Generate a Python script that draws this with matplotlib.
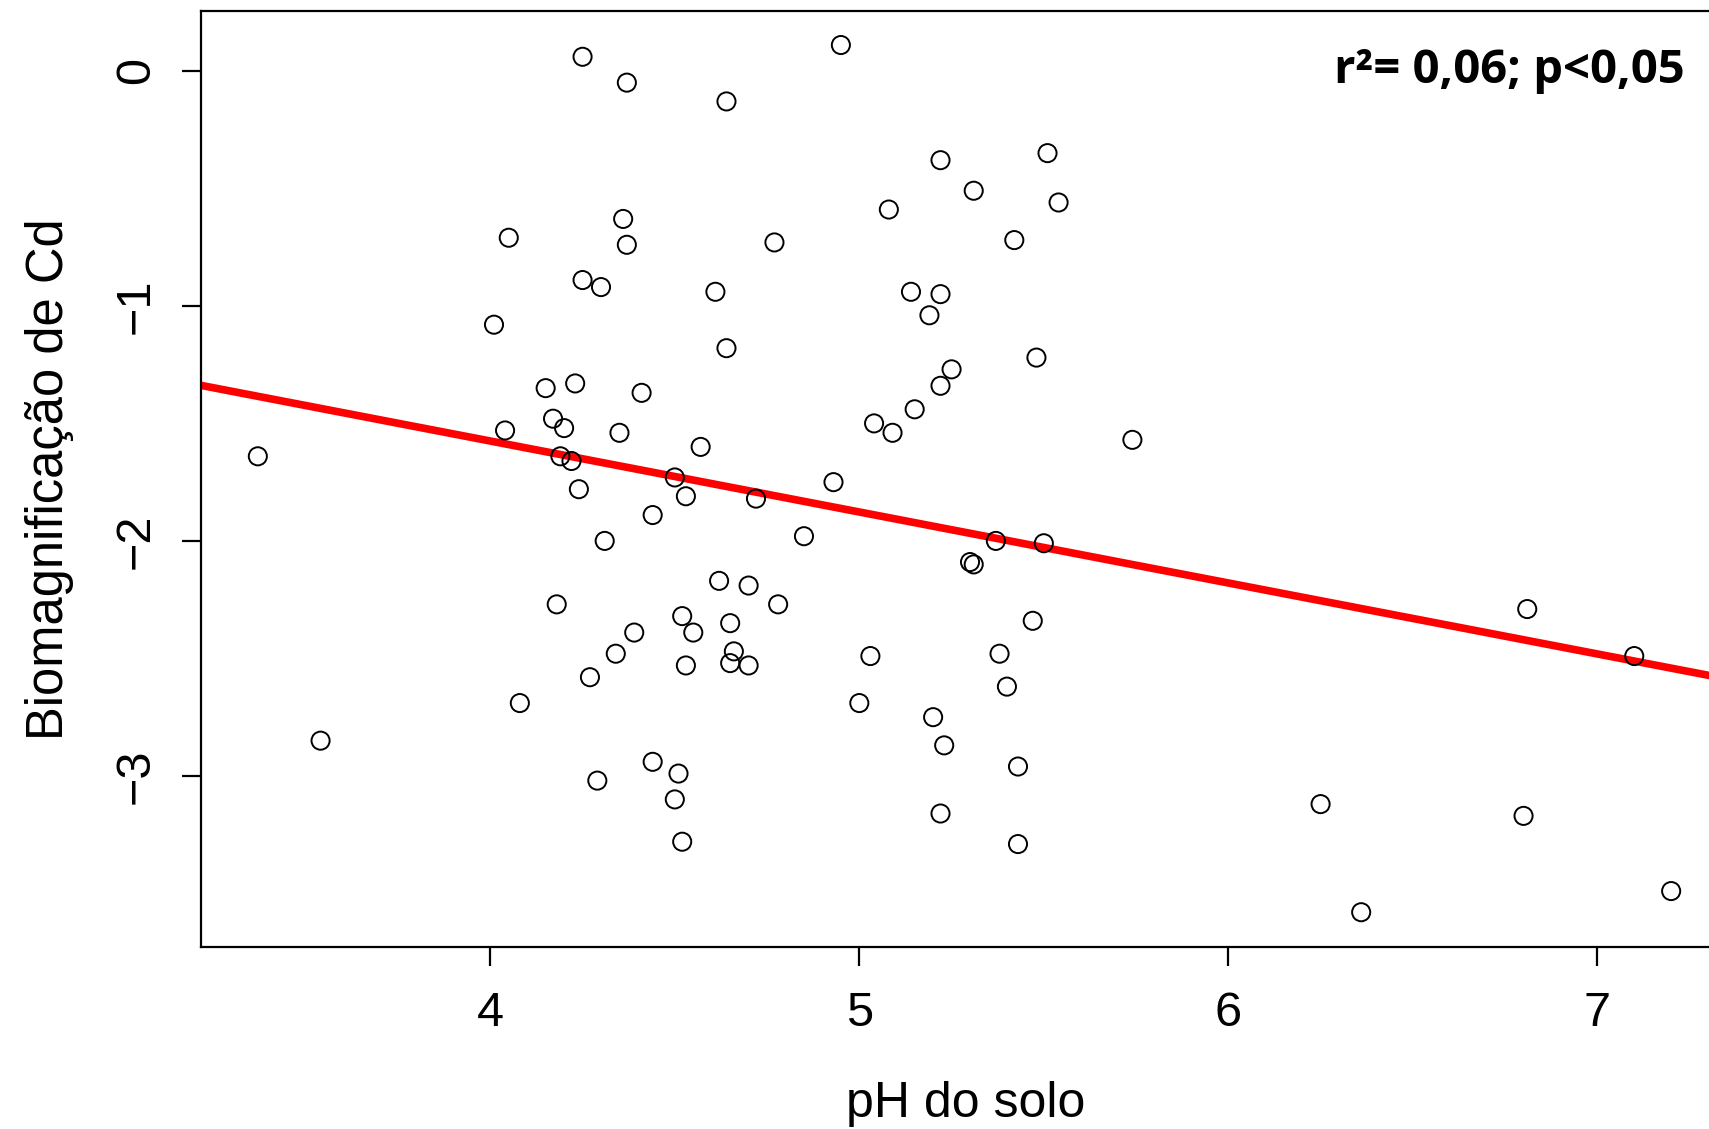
import numpy as np
import matplotlib
matplotlib.use('Agg')
import matplotlib.pyplot as plt

plt.rcParams['font.family'] = ['Liberation Sans', 'DejaVu Sans']

# soil pH vs Cd biomagnification
ph = [3.37, 3.54, 4.25, 4.37, 4.64, 4.95, 5.51, 5.22, 5.31, 5.54,
      5.08, 4.36, 4.05, 4.77, 5.42, 4.37, 4.25, 4.30, 4.61, 5.14,
      5.22, 5.19, 4.01, 4.64, 5.48, 5.25, 4.23, 4.15, 5.22, 4.41,
      5.15, 4.17, 5.04, 4.20, 4.04, 5.09, 4.35, 5.74, 4.57, 4.19,
      4.22, 4.50, 4.93, 4.24, 4.53, 4.72, 4.44, 4.85, 5.37, 4.31,
      5.50, 5.30, 5.31, 4.62, 4.70, 4.18, 4.78, 6.81, 4.52, 5.47,
      4.65, 4.39, 4.55, 4.34, 4.66, 5.38, 5.03, 7.10, 4.53, 4.65,
      4.70, 4.27, 5.40, 4.08, 5.00, 5.20, 5.23, 4.44, 5.43, 4.51,
      4.29, 4.50, 6.25, 5.22, 6.80, 4.52, 5.43, 7.20, 6.36]
biomag = [-1.64, -2.85, 0.06, -0.05, -0.13, 0.11, -0.35, -0.38, -0.51, -0.56,
          -0.59, -0.63, -0.71, -0.73, -0.72, -0.74, -0.89, -0.92, -0.94, -0.94,
          -0.95, -1.04, -1.08, -1.18, -1.22, -1.27, -1.33, -1.35, -1.34, -1.37,
          -1.44, -1.48, -1.50, -1.52, -1.53, -1.54, -1.54, -1.57, -1.60, -1.64,
          -1.66, -1.73, -1.75, -1.78, -1.81, -1.82, -1.89, -1.98, -2.00, -2.00,
          -2.01, -2.09, -2.10, -2.17, -2.19, -2.27, -2.27, -2.29, -2.32, -2.34,
          -2.35, -2.39, -2.39, -2.48, -2.47, -2.48, -2.49, -2.49, -2.53, -2.52,
          -2.53, -2.58, -2.62, -2.69, -2.69, -2.75, -2.87, -2.94, -2.96, -2.99,
          -3.02, -3.10, -3.12, -3.16, -3.17, -3.28, -3.29, -3.49, -3.58]

# regression line
intercept = -0.367
slope = -0.302

fig = plt.figure(figsize=(17.09, 11.29), dpi=100)
ax = fig.add_axes([0.1174, 0.1612, 0.895, 0.8291])

ax.scatter(ph, biomag, s=170, facecolors='none', edgecolors='black',
           linewidths=1.4, zorder=3)
ax.axline((0, intercept), slope=slope, color='#ff0000', lw=5.5, zorder=2)

ax.set_xlim(3.215, 7.36)
ax.set_ylim(-3.728, 0.255)
ax.set_xticks([4, 5, 6, 7])
ax.set_yticks([0, -1, -2, -3])
ax.set_xticklabels(['4', '5', '6', '7'])
ax.set_yticklabels(['0', '\u22121', '\u22122', '\u22123'], rotation=90, va='center')
ax.tick_params(direction='out', length=14, width=1.6, labelsize=35)
ax.tick_params(axis='x', pad=18)
ax.tick_params(axis='y', pad=16)
for s in ax.spines.values():
    s.set_linewidth(1.6)

ax.set_xlabel('pH do solo', fontsize=36, labelpad=32)
ax.set_ylabel('Biomagnificação de Cd', fontsize=36.5, labelpad=29)

ax.text(0.970, 0.936, 'r²= 0,06; p<0,05', transform=ax.transAxes,
        ha='right', va='center', fontsize=34, fontweight='bold',
        family=['Open Sans', 'DejaVu Sans'])

fig.savefig('out.png', dpi=100)
